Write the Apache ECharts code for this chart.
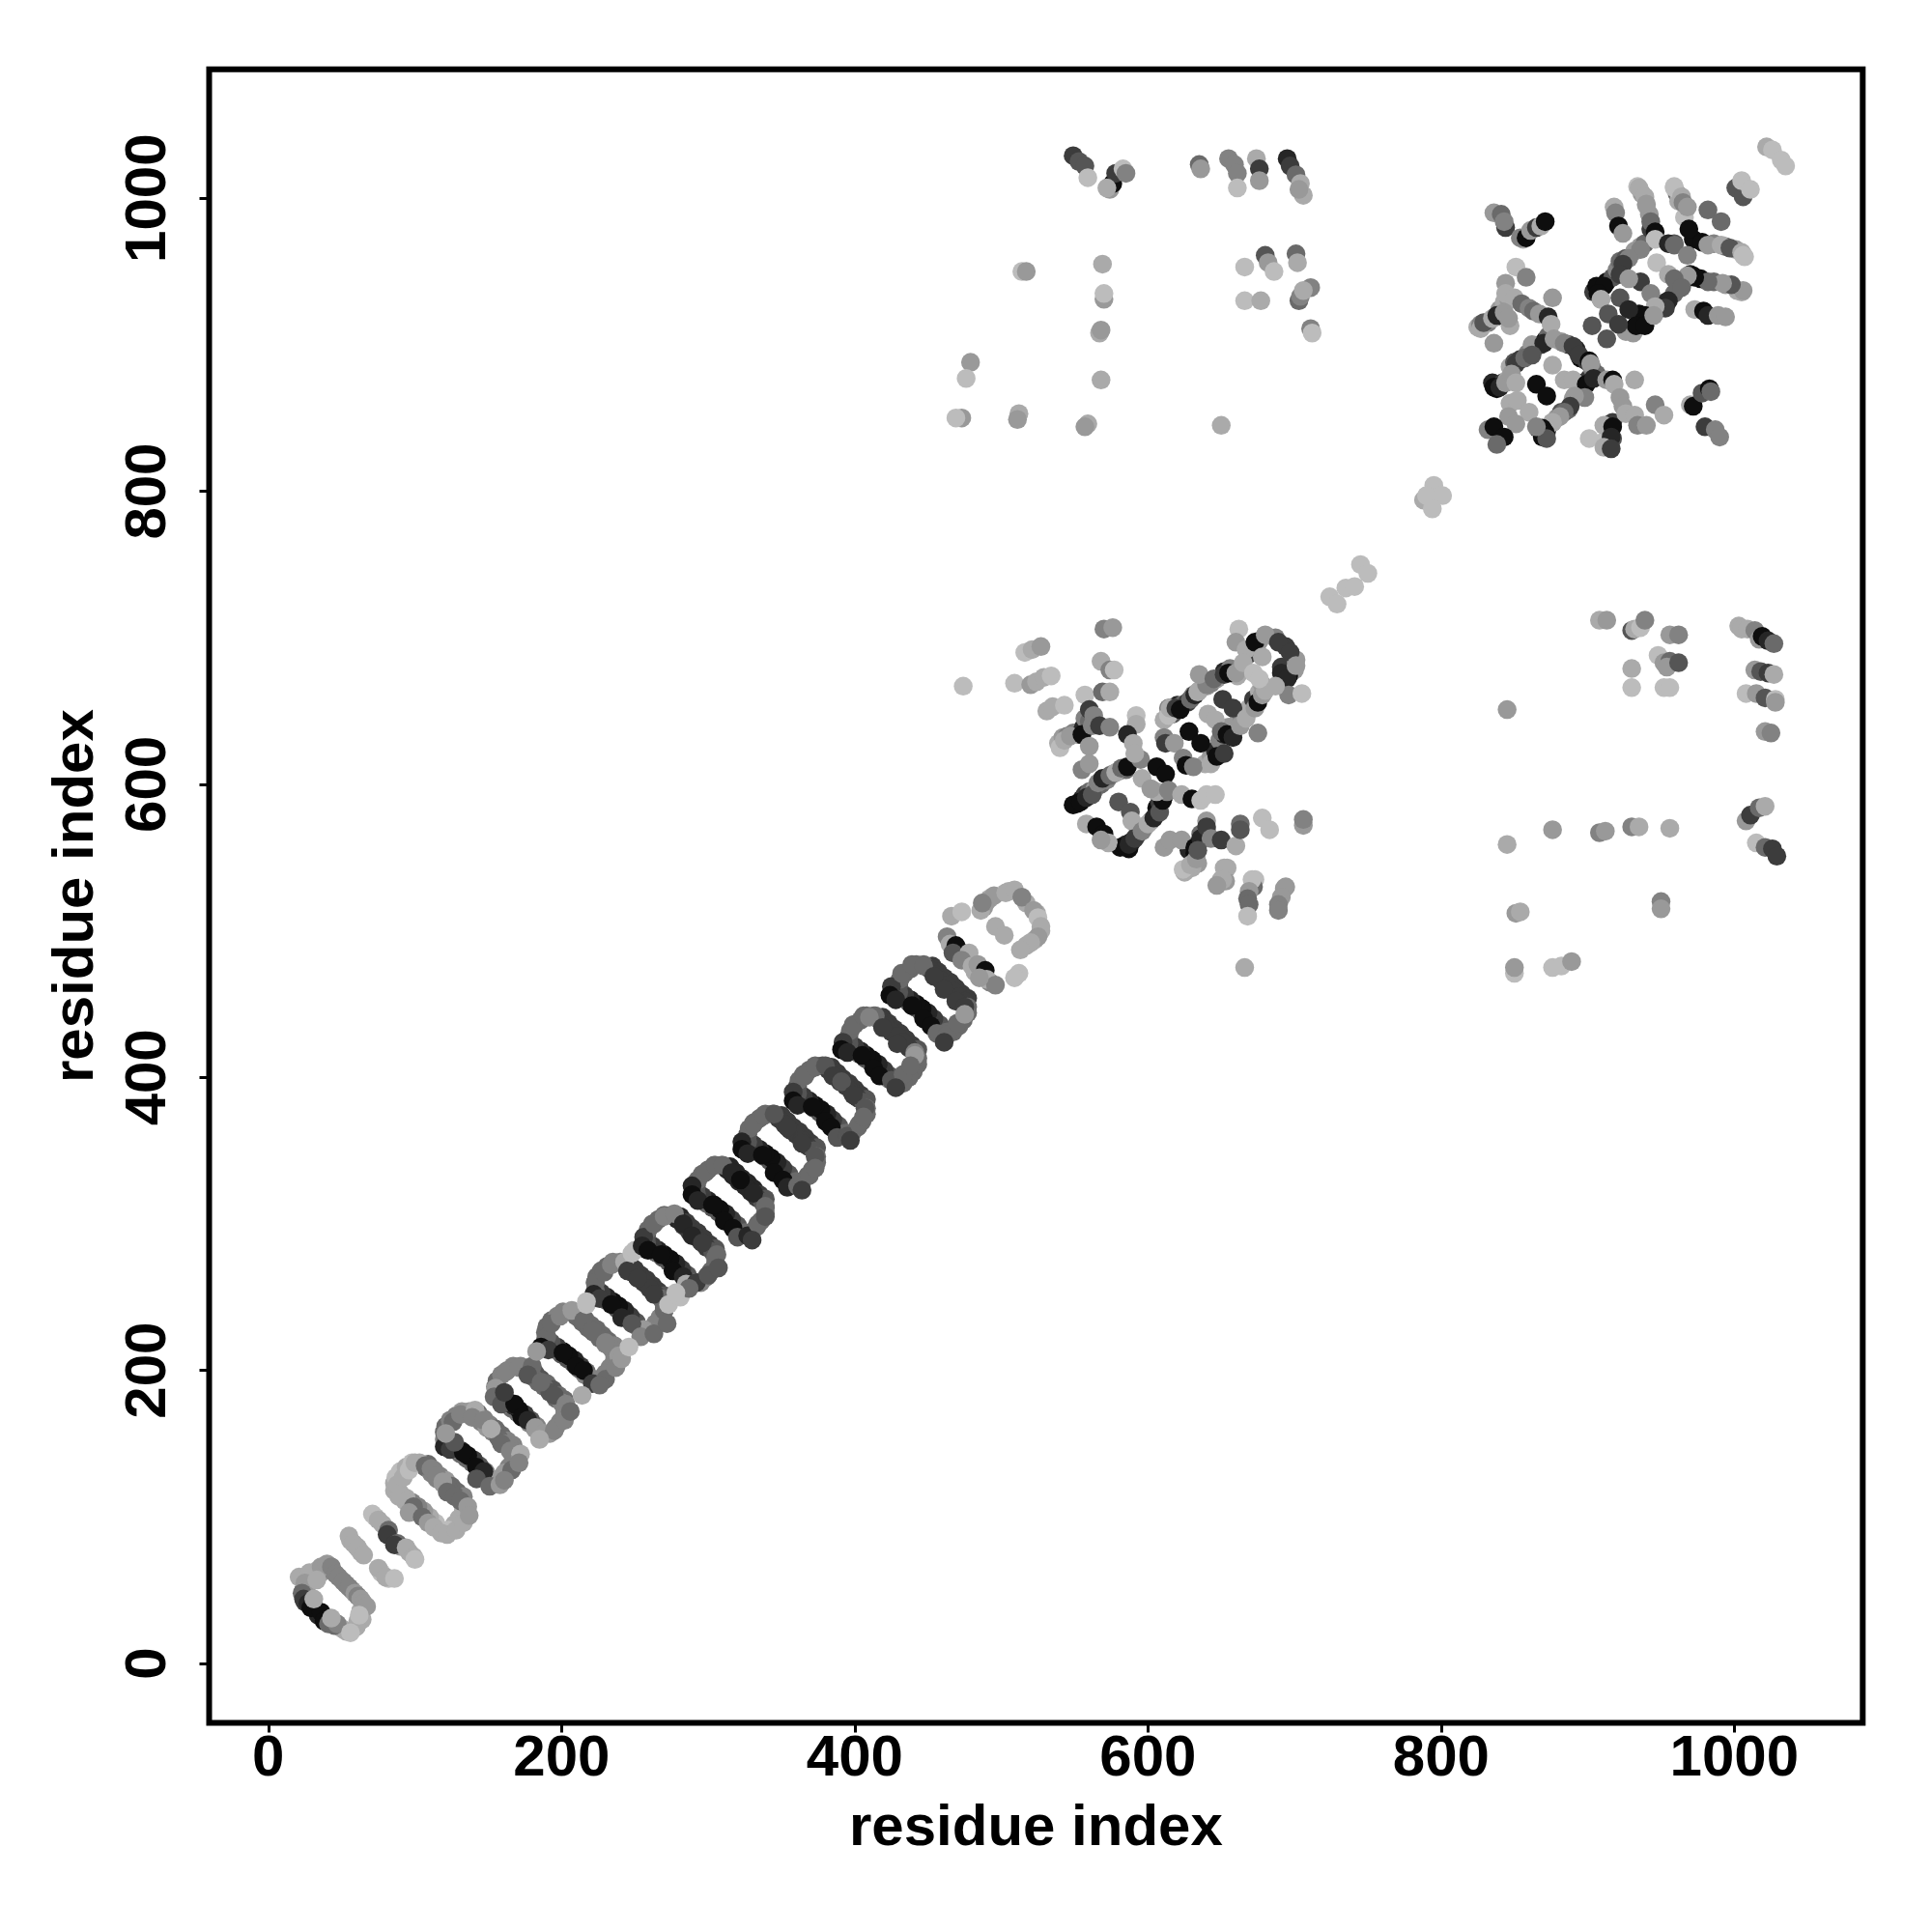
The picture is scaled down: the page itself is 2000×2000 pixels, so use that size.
<!DOCTYPE html>
<html><head><meta charset="utf-8">
<style>html,body{margin:0;padding:0;background:#fff}#c{width:2000px;height:2000px}</style>
<script src="https://cdn.jsdelivr.net/npm/echarts@6/dist/echarts.min.js"></script>
</head><body><div id="c"></div>
<script>
const tickValues=[0,200,400,600,800,1000];
const axisTitle="residue index";
// shade code -> grey
const levelGrays=["#000","#0e0e0e","#262626","#3c3c3c","#555","#6a6a6a","#828282","#999","#aaa","#bcbcbc"];
// [residue i, residue j, shade code]
const base03=[[113,94,8],[109,98,8],[105,102,7],[101,105,7],[97,108,6],[93,111,8],[89,114,8],[114,96,9],[110,100,8],[106,104,7],[102,107,6],[98,110,6],[94,113,8],[90,116,8],[86,118,8],[86,123,8],[87,127,9],[90,131,9],[94,134,8],[98,137,9],[109,136,5],[113,132,6],[117,128,6],[121,125,7],[125,121,5],[129,117,5],[133,114,6],[103,137,8],[107,134,5],[111,130,6],[115,126,6],[119,123,7],[123,119,5],[127,115,5],[131,112,6],[133,108,7],[133,104,8],[130,99,8],[127,95,8],[123,91,9],[119,91,9]];
const base04=[[147,129,7],[143,133,6],[139,137,5],[135,140,5],[131,143,5],[127,146,6],[123,149,6],[148,131,6],[144,135,4],[140,139,3],[136,142,1],[132,145,2],[128,148,3],[124,151,4],[120,153,6],[120,158,5],[121,162,5],[124,166,6],[128,169,6],[132,172,7],[143,171,5],[147,167,6],[151,163,6],[155,160,5],[159,156,5],[163,152,6],[167,149,6],[137,172,7],[141,169,5],[145,165,6],[149,161,7],[153,158,6],[157,154,5],[161,150,6],[165,147,6],[167,143,6],[167,139,6],[164,134,6],[161,130,7],[157,126,7],[153,126,7]];
const base05=[[182,160,7],[178,164,6],[174,168,5],[170,171,5],[166,174,5],[162,177,6],[158,180,6],[183,162,6],[179,166,4],[175,170,3],[171,173,1],[167,176,2],[163,179,3],[159,182,4],[155,184,6],[155,189,5],[156,193,5],[159,197,6],[163,200,6],[167,203,6],[178,202,5],[182,198,4],[186,194,4],[190,191,5],[194,187,4],[198,183,5],[202,180,5],[172,203,6],[176,200,4],[180,196,5],[184,192,5],[188,189,5],[192,185,4],[196,181,5],[200,178,6],[202,174,6],[202,170,6],[199,165,6],[196,161,6],[192,157,7],[188,157,7]];
const base06=[[216,197,6],[212,201,5],[208,205,4],[204,208,4],[200,211,4],[196,214,5],[192,217,5],[217,199,5],[213,203,3],[209,207,2],[205,210,1],[201,213,1],[197,216,3],[193,219,4],[189,221,5],[189,226,5],[190,230,5],[193,234,5],[197,237,6],[201,240,6],[212,239,4],[216,235,5],[220,231,5],[224,228,5],[228,224,5],[232,220,5],[236,217,6],[206,240,7],[210,237,5],[214,233,5],[218,229,5],[222,226,5],[226,222,5],[230,218,6],[234,215,6],[236,211,6],[236,207,6],[233,202,6],[230,198,6],[226,194,6],[222,194,6]];
const base07=[[250,231,6],[246,235,5],[242,239,4],[238,242,4],[234,245,4],[230,248,5],[226,251,5],[251,233,4],[247,237,3],[243,241,2],[239,244,1],[235,247,1],[231,250,2],[227,253,3],[223,255,5],[223,260,5],[224,264,5],[227,268,5],[231,271,5],[235,274,6],[246,273,3],[250,269,3],[254,265,3],[258,262,3],[262,258,3],[266,254,3],[270,251,4],[240,274,6],[244,271,3],[248,267,3],[252,263,3],[256,260,3],[260,256,3],[264,252,3],[268,249,5],[270,245,5],[270,241,5],[267,236,6],[264,232,6],[260,228,6],[256,228,7]];
const base08=[[285,263,6],[281,267,5],[277,271,4],[273,274,4],[269,277,4],[265,280,5],[261,283,5],[286,265,4],[282,269,3],[278,273,2],[274,276,1],[270,279,1],[266,282,2],[262,285,3],[258,287,4],[258,292,4],[259,296,5],[262,300,5],[266,303,5],[270,306,5],[281,305,2],[285,301,3],[289,297,3],[293,294,3],[297,290,3],[301,286,3],[305,283,4],[275,306,5],[279,303,2],[283,299,3],[287,295,3],[291,292,3],[295,288,3],[299,284,3],[303,281,4],[305,277,5],[305,273,5],[302,268,5],[299,264,5],[295,260,6],[291,260,6]];
const base09=[[319,297,6],[315,301,5],[311,305,4],[307,308,4],[303,311,4],[299,314,5],[295,317,5],[320,299,4],[316,303,3],[312,307,2],[308,310,1],[304,313,1],[300,316,2],[296,319,3],[292,321,4],[292,326,4],[293,330,5],[296,334,5],[300,337,5],[304,340,5],[315,339,2],[319,335,2],[323,331,2],[327,328,2],[331,324,2],[335,320,3],[339,317,4],[309,340,5],[313,337,2],[317,333,2],[321,329,2],[325,326,2],[329,322,2],[333,318,3],[337,315,4],[339,311,5],[339,307,5],[336,302,5],[333,298,5],[329,294,5],[325,294,5]];
const base10=[[354,332,6],[350,336,5],[346,340,4],[342,343,4],[338,346,4],[334,349,5],[330,352,5],[355,334,4],[351,338,3],[347,342,2],[343,345,1],[339,348,1],[335,351,2],[331,354,3],[327,356,4],[327,361,4],[328,365,5],[331,369,5],[335,372,5],[339,375,5],[350,374,3],[354,370,3],[358,366,3],[362,363,3],[366,359,3],[370,355,3],[374,352,4],[344,375,5],[348,372,3],[352,368,3],[356,364,3],[360,361,3],[364,357,3],[368,353,3],[372,350,4],[374,346,5],[374,342,5],[371,337,5],[368,333,5],[364,329,5],[360,329,5]];
const base11=[[388,365,6],[384,369,5],[380,373,4],[376,376,4],[372,379,4],[368,382,5],[364,385,5],[389,367,4],[385,371,3],[381,375,2],[377,378,1],[373,381,1],[369,384,2],[365,387,3],[361,389,4],[361,394,4],[362,398,5],[365,402,5],[369,405,5],[373,408,5],[384,407,3],[388,403,3],[392,399,3],[396,396,3],[400,392,3],[404,388,3],[408,385,4],[378,408,4],[382,405,3],[386,401,3],[390,397,3],[394,394,3],[398,390,3],[402,386,3],[406,383,4],[408,379,5],[408,375,5],[405,370,5],[402,366,5],[398,362,5],[394,362,5]];
const base12=[[423,399,6],[419,403,5],[415,407,4],[411,410,4],[407,413,4],[403,416,5],[399,419,5],[424,401,4],[420,405,3],[416,409,2],[412,412,1],[408,415,1],[404,418,2],[400,421,3],[396,423,4],[396,428,4],[397,432,5],[400,436,5],[404,439,5],[408,442,5],[419,441,3],[423,437,3],[427,433,3],[431,430,3],[435,426,3],[439,422,3],[443,419,4],[413,442,5],[417,439,3],[421,435,3],[425,431,3],[429,428,3],[433,424,3],[437,420,3],[441,417,6],[443,413,5],[443,409,5],[440,404,5],[437,400,5],[433,396,5],[429,396,5]];
const base13=[[457,434,6],[453,438,5],[449,442,4],[445,445,4],[441,448,4],[437,451,5],[433,454,5],[458,436,4],[454,440,3],[450,444,2],[446,447,1],[442,450,1],[438,453,2],[434,456,3],[430,458,4],[430,463,4],[431,467,5],[434,471,5],[438,474,5],[442,477,5],[453,476,3],[457,472,3],[461,468,3],[465,465,3],[469,461,3],[473,457,3],[477,454,3],[447,477,5],[451,474,3],[455,470,3],[459,466,3],[463,463,3],[467,459,3],[471,455,3],[475,452,3],[477,448,5],[477,444,5],[474,439,5],[471,435,5],[467,431,5],[463,431,5]];
const repeat01=[[36,62,7],[44,63,6],[53,54,6],[57,50,7],[64,42,8],[24,50,6],[26,52,7],[30,60,8],[34,64,8],[25,42,3],[32,37,1],[34,33,2],[50,24,8],[53,22,8],[63,36,8],[64,30,8],[21,59,8],[28,62,8],[25,55,7],[23,48,5],[24,44,3],[27,41,2],[29,38,1],[36,35,1],[38,29,1],[36,66,7],[40,68,7],[43,66,6],[46,61,6],[48,59,6],[51,56,6],[55,52,6],[59,48,7],[61,46,6],[63,44,7],[65,41,7],[67,39,7],[41,27,5],[45,26,5],[47,27,6],[43,31,8],[31,44,8],[33,57,8],[61,29,8],[60,25,8],[56,21,9],[62,33,9]];
const repeat02=[[56,84,8],[60,80,8],[63,76,8],[77,62,9],[82,58,9],[73,100,9],[78,95,8],[90,80,7],[96,76,8],[55,87,8],[58,82,8],[61,79,8],[65,74,8],[75,65,8],[80,59,8],[86,58,9],[71,102,9],[75,98,8],[82,91,5],[81,88,3],[88,82,5],[86,81,3],[94,79,8],[99,73,8],[100,71,9]];
const repeat03=[[90,115,8],[88,122,8],[92,127,8],[96,132,9],[100,137,8],[107,135,5],[111,133,6],[115,128,6],[119,124,7],[122,117,5],[127,114,5],[131,111,5],[136,107,7],[99,107,5],[96,103,7],[105,100,5],[109,96,7],[113,93,8],[118,89,8],[122,88,8],[128,91,8],[133,96,8],[137,101,7]];
const repeat04=[[121,155,5],[120,148,2],[124,146,3],[133,144,1],[126,165,5],[131,170,6],[141,173,8],[139,168,6],[147,166,6],[152,160,8],[159,150,5],[165,145,6],[172,143,8],[142,134,1],[147,131,2],[142,126,4],[151,121,5],[158,122,7],[166,132,5],[171,137,6],[161,125,6],[127,151,4],[121,157,7]];
const repeat05=[[155,188,7],[154,182,5],[159,177,4],[168,177,1],[162,199,6],[171,202,6],[180,203,5],[177,197,4],[186,192,5],[195,183,4],[203,177,6],[173,168,1],[177,166,2],[182,161,7],[188,157,7],[195,159,6],[202,166,6],[206,172,5],[185,153,8],[161,185,3]];
const repeat06=[[190,223,5],[186,216,1],[191,214,3],[201,212,1],[193,232,5],[199,237,6],[207,241,7],[215,234,5],[221,227,5],[230,219,6],[239,210,7],[210,203,1],[215,200,1],[221,191,3],[230,194,5],[237,202,6],[183,213,7],[214,183,8],[217,245,9],[241,208,7],[226,190,5]];
const repeat07=[[223,260,5],[222,252,2],[226,249,3],[234,245,1],[229,267,5],[234,272,6],[243,274,8],[245,268,3],[252,263,3],[263,252,3],[270,241,5],[241,236,2],[248,232,4],[254,223,6],[263,225,5],[272,232,5],[273,245,9],[246,216,9],[281,250,9],[217,247,9],[248,280,9],[250,282,9]];
const repeat08=[[256,291,3],[255,285,2],[259,282,1],[268,279,1],[263,300,5],[270,305,6],[277,307,6],[283,300,2],[289,292,2],[296,287,3],[306,279,5],[276,268,1],[283,264,2],[285,259,8],[292,260,3],[300,265,4],[307,270,4],[287,256,5],[278,253,9]];
const repeat09=[[289,326,2],[289,320,1],[293,316,2],[303,313,1],[298,335,5],[305,340,5],[310,340,5],[316,335,2],[322,330,1],[331,321,2],[339,312,5],[311,302,1],[317,297,1],[320,291,4],[327,292,2],[334,300,5],[339,305,4],[330,289,3]];
const repeat10=[[323,356,2],[323,351,1],[327,348,2],[337,347,1],[331,368,5],[338,374,5],[345,375,4],[354,366,3],[364,355,3],[373,346,4],[345,335,1],[351,330,1],[354,325,2],[361,326,5],[369,333,5],[373,338,5],[364,323,3]];
const repeat11=[[358,390,3],[358,384,1],[361,381,2],[371,380,1],[366,401,5],[373,407,5],[380,408,4],[385,401,3],[391,397,4],[399,388,3],[407,379,4],[380,370,1],[384,366,1],[388,359,4],[395,360,4],[403,368,5],[406,373,5],[397,357,3]];
const repeat12=[[392,424,3],[391,419,1],[395,417,2],[405,415,1],[399,436,5],[406,442,5],[414,442,5],[410,441,6],[419,434,3],[429,423,3],[441,415,7],[413,406,1],[417,401,1],[425,398,4],[433,402,5],[438,408,5],[428,393,3]];
const repeat13=[[425,462,3],[424,456,1],[428,453,2],[439,449,1],[432,471,5],[439,477,5],[447,476,5],[454,469,3],[461,460,3],[469,452,3],[475,448,3],[447,440,1],[452,435,1],[456,430,5],[463,429,5],[470,437,5],[475,443,7],[461,424,3]];
const repeat14=[[470,488,3],[475,483,7],[487,470,5],[492,465,6],[482,472,8],[488,516,7],[492,522,8],[505,527,8],[517,519,8],[524,512,8],[527,500,8],[523,494,8],[517,490,8],[463,496,6],[465,491,8],[469,490,1],[467,485,4],[478,485,8],[473,480,6],[480,476,8],[484,477,7],[489,473,1],[490,467,8],[496,463,6],[485,468,7],[466,510,8],[473,513,9],[486,514,8],[490,520,7],[495,524,7],[487,519,6],[503,526,8],[509,528,8],[514,523,6],[522,514,7],[525,509,9],[527,503,8],[525,496,7],[520,492,8],[513,487,8],[512,471,9],[509,468,9],[496,503,8],[502,497,8]];
const linkerContacts=[[724,728,9],[729,723,9],[735,734,9],[741,735,9],[745,750,9],[750,744,9],[788,794,8],[795,804,9],[801,797,9],[790,797,9],[794,788,9]];
const middleDense=[[552,587,1],[555,590,1],[557,593,3],[560,595,5],[564,597,7],[568,600,5],[572,603,6],[576,607,7],[580,609,6],[585,610,5],[587,556,1],[589,561,1],[593,566,4],[598,571,7],[602,575,7],[606,584,1],[608,588,3],[611,592,5],[585,559,2],[581,557,1],[628,555,2],[632,553,1],[634,559,4],[636,566,5],[640,568,6],[634,546,7],[630,543,8],[625,540,8],[611,644,8],[614,652,6],[617,648,4],[620,654,2],[623,654,5],[627,656,3],[631,661,6],[635,664,8],[640,667,7],[643,669,6],[647,672,7],[652,677,2],[656,679,6],[661,674,8],[639,614,8],[643,619,7],[646,623,2],[649,630,6],[652,634,2],[655,639,7],[661,642,7],[664,646,6],[669,652,8],[672,658,3],[676,663,8],[678,668,7],[672,694,2],[669,689,3],[676,698,7],[687,700,6],[694,694,3],[700,678,7],[696,674,1],[691,680,3],[701,685,7],[539,628,8],[542,632,7],[545,633,6],[549,635,6],[553,634,2],[556,639,2],[557,645,6],[560,643,5]];
const middleWest=[[474,667,9],[509,669,9],[520,668,7],[524,670,8],[529,673,8],[534,674,9],[516,690,9],[521,692,8],[527,694,7],[570,706,6],[576,707,7],[568,684,8],[574,678,6],[577,678,9],[557,661,9],[569,663,5],[574,663,8],[531,650,8],[535,653,8],[543,654,9],[540,625,9],[543,630,8],[547,633,7],[555,634,1],[560,651,3],[563,647,6],[562,640,6],[567,640,3],[574,639,6],[560,626,7],[555,610,6],[560,614,7]];
const middleRing=[[549,586,1],[554,588,1],[558,591,2],[562,593,4],[566,601,6],[569,604,2],[574,606,5],[578,608,8],[582,611,5],[586,612,1],[558,573,8],[565,571,1],[570,566,1],[573,560,8],[568,562,7],[580,588,4],[588,581,4],[589,575,8],[585,557,1],[587,559,2],[591,563,3],[596,568,6],[600,573,8],[604,577,2],[608,581,4],[610,589,1],[613,595,6],[606,595,8],[611,557,7],[615,562,7],[623,562,7],[632,557,1],[636,563,2],[640,575,7],[640,571,3],[643,563,6],[650,562,3],[660,558,8],[624,542,9],[629,545,8],[633,549,7],[634,555,4],[654,543,8],[650,535,8],[653,534,7],[673,535,9],[672,530,5],[694,530,7],[663,573,5],[663,569,4],[678,577,9],[683,569,9],[706,572,7],[706,576,6],[592,647,9],[592,641,8],[586,634,2],[590,628,8],[595,617,6],[591,621,8],[606,612,1],[612,607,1],[596,604,8],[602,597,7],[614,596,6],[623,593,8],[630,590,1],[636,589,9],[640,593,9],[646,593,9]];
const middleArm=[[611,632,6],[612,628,3],[618,628,7],[624,618,6],[626,613,1],[631,612,6],[628,636,1],[636,628,1],[614,647,9],[615,652,8],[619,652,3],[622,651,1],[629,658,5],[632,661,2],[634,663,8],[640,668,6],[635,675,7],[645,672,5],[652,675,3],[655,676,1],[660,676,7],[641,648,8],[646,644,8],[651,658,3],[658,652,3],[643,614,8],[647,619,1],[652,621,3],[650,636,5],[654,634,1],[658,632,2],[663,640,7],[667,645,8],[673,652,7],[675,656,1],[678,661,7],[675,635,6],[662,706,9],[660,697,7],[667,692,8],[673,697,1],[680,702,7],[689,697,3],[697,690,3],[665,683,8],[672,676,9],[678,687,8],[691,676,2],[695,672,2],[701,681,7],[696,661,6],[705,662,9],[680,664,8],[687,667,8],[676,672,9]];
const middleSouth=[[652,543,8],[651,535,8],[647,531,7],[671,535,9],[669,527,7],[668,522,5],[669,518,5],[668,510,9],[693,529,7],[691,523,7],[689,518,6],[689,514,6],[666,475,8]];
const upperLeftBlock=[[549,1029,3],[553,1025,4],[557,1022,4],[559,1014,9],[574,1006,7],[576,1010,1],[578,1017,3],[572,1007,8],[583,1020,9],[585,1017,6],[635,1023,5],[636,1020,7],[655,1027,6],[659,1023,6],[661,1017,6],[661,1007,9],[674,1027,8],[676,1020,3],[676,1012,7],[695,1027,2],[697,1022,3],[701,1016,5],[704,1010,8],[706,1002,8],[703,1006,7],[514,950,9],[517,950,7],[569,955,8],[570,931,7],[570,935,9],[567,908,8],[568,910,7],[568,876,8],[666,953,9],[680,961,4],[682,956,7],[686,950,9],[701,962,5],[702,956,8],[666,930,9],[677,930,8],[703,930,5],[704,933,6],[711,939,6],[706,937,8],[711,911,6],[712,908,9],[479,888,7],[476,877,9],[473,850,7],[469,850,9],[512,853,8],[511,849,7],[559,846,8],[557,844,7],[650,845,8]];
const upperDense=[[825,912,8],[827,914,6],[832,915,6],[837,919,3],[840,924,7],[843,929,8],[846,931,7],[850,931,8],[847,885,8],[850,888,4],[854,890,3],[859,894,6],[863,897,4],[868,900,3],[871,903,1],[873,906,5],[835,874,2],[838,870,1],[842,874,3],[845,876,8],[866,843,2],[869,837,1],[872,841,2],[876,847,7],[879,850,7],[882,854,4],[887,856,5],[890,863,7],[894,869,2],[897,874,1],[901,877,3],[882,902,7],[887,900,3],[892,897,2],[895,891,1],[899,889,3],[903,884,6],[906,880,5],[917,847,3],[916,842,1],[917,836,4],[913,832,7],[911,834,9],[904,936,3],[906,940,1],[909,931,7],[913,943,1],[917,946,4],[920,951,6],[922,957,5],[926,959,4],[932,964,7],[936,967,7],[939,969,5],[926,909,7],[931,911,2],[935,913,1],[939,917,1],[944,920,8],[948,924,7],[953,929,3],[959,935,5],[964,940,5],[970,948,2],[972,947,1],[977,945,1],[986,943,5],[994,941,7],[1002,937,8],[1005,936,8],[959,969,4],[972,972,1],[986,969,6],[994,967,5],[1001,965,7],[1007,960,9],[934,1008,9],[937,1003,7],[940,995,8],[942,989,7],[943,979,3],[959,1008,9],[961,1003,5],[962,998,8],[966,987,9]];
const upperRightWest=[[836,990,7],[841,989,5],[844,980,3],[843,984,6],[856,972,8],[854,973,6],[858,973,1],[861,978,7],[865,980,3],[868,981,8],[871,984,1],[851,953,9],[858,946,6],[844,942,7],[844,935,8],[876,932,7],[850,932,8],[855,928,5],[860,925,6],[863,923,5],[867,921,7],[873,919,2],[875,914,8],[827,911,8],[829,915,4],[835,918,8],[838,920,2],[843,922,7],[847,913,8],[846,918,7],[836,901,7],[862,900,7],[870,901,2],[877,904,7],[884,901,6],[890,899,3],[894,893,3],[901,889,1],[902,887,7],[851,887,3],[857,891,5],[862,893,4],[876,886,8],[836,871,1],[840,871,2],[844,874,7],[848,880,7],[851,874,8],[865,873,1],[872,865,1],[847,860,8],[852,862,8],[860,854,8],[846,851,7],[851,846,7],[884,876,8],[890,876,8],[899,873,1],[904,877,2],[913,876,7],[917,876,1],[918,873,8],[898,864,6],[891,865,7],[888,858,3],[884,854,5],[881,851,7],[876,847,8],[871,840,1],[869,843,1],[872,836,4],[865,844,6],[922,864,7],[924,858,7],[926,853,8],[932,852,8],[934,845,6],[940,845,7],[932,876,8],[901,836,9],[911,845,8],[917,844,1],[916,837,2],[911,830,8],[916,829,3],[946,859,6],[952,852,8],[832,842,6],[836,844,1],[843,837,1],[838,832,5],[970,859,8],[972,858,1],[978,867,4],[983,870,1],[984,868,5],[980,844,3],[987,842,6],[990,837,6]];
const upperRightEast=[[918,994,8],[919,990,6],[921,981,1],[924,976,7],[935,1007,8],[939,1001,8],[940,996,7],[943,984,5],[946,977,1],[946,972,9],[959,1007,9],[964,1001,8],[965,997,6],[968,994,7],[969,979,1],[978,970,1],[982,992,5],[991,984,5],[955,969,2],[959,968,5],[968,961,6],[982,968,7],[991,968,8],[997,966,4],[1005,963,8],[1006,961,9],[1006,937,7],[998,941,4],[992,942,7],[982,943,5],[973,946,1],[968,947,7],[947,956,9],[936,965,6],[928,959,6],[924,955,3],[922,948,3],[911,940,1],[907,935,1],[909,931,8],[922,932,4],[936,943,3],[928,945,7],[943,935,6],[955,948,8],[959,945,5],[964,939,5],[955,930,2],[953,925,3],[946,926,8],[939,920,1],[935,921,1],[928,924,2],[931,908,7],[933,913,1],[939,913,1],[945,920,7],[903,913,4],[913,904,4],[914,921,4],[921,914,3],[973,924,8],[979,923,1],[982,920,2],[989,920,7],[994,919,7],[1001,1007,4],[1006,1001,4],[1005,1012,9],[1011,1006,9],[1022,1035,8],[1026,1033,9],[1032,1026,9],[1035,1022,9]];
const lowerRightBlock=[[908,712,8],[913,712,7],[930,705,4],[932,706,8],[936,707,9],[939,712,6],[956,702,7],[962,702,6],[948,688,9],[952,683,7],[956,684,5],[954,680,7],[962,683,4],[930,679,8],[930,666,9],[952,666,9],[956,666,9],[1003,708,8],[1005,706,8],[1009,706,8],[1014,705,6],[1017,699,7],[1019,701,1],[1023,698,2],[1027,696,5],[1014,678,7],[1018,677,4],[1023,676,3],[1027,675,8],[1008,662,9],[1015,662,7],[1021,659,4],[1028,658,9],[1028,656,7],[1021,636,7],[1025,635,6],[845,651,7],[1008,575,7],[1011,579,3],[1017,584,5],[1021,585,8],[1015,560,9],[1021,557,5],[1026,556,3],[1029,551,3],[845,559,8],[876,569,7],[908,567,6],[912,568,7],[930,571,6],[935,571,8],[956,570,8],[851,512,7],[854,513,8],[950,520,6],[950,515,7],[850,471,9],[850,475,7],[876,475,9],[882,476,9],[889,479,7]];
const allContacts=[...repeat01,...repeat02,...base03,...repeat03,...base04,...repeat04,...base05,...repeat05,...base06,...repeat06,...base07,...repeat07,...base08,...repeat08,...base09,...repeat09,...base10,...repeat10,...base11,...repeat11,...base12,...repeat12,...base13,...repeat13,...repeat14,...linkerContacts,...middleDense,...middleWest,...middleRing,...middleArm,...middleSouth,...upperLeftBlock,...upperDense,...upperRightWest,...upperRightEast,...lowerRightBlock];

const chart=echarts.init(document.getElementById('c'),null,{renderer:'canvas'});
const labelFont={fontFamily:'Liberation Sans',fontWeight:'bold',fontSize:60,color:'#000'};
chart.setOption({
  animation:false,backgroundColor:'#fff',
  grid:{show:true,left:216.5,top:71.7,width:1711.8,height:1711.8,borderColor:'#000',borderWidth:6,backgroundColor:'transparent'},
  xAxis:{type:'value',min:-40.4,max:1087.6,name:axisTitle,nameLocation:'middle',nameGap:80,nameTextStyle:labelFont,
    axisLine:{show:false,onZero:false},splitLine:{show:false},
    axisTick:{show:true,customValues:tickValues,length:10,lineStyle:{color:'#000',width:3}},
    axisLabel:{...labelFont,customValues:tickValues,margin:8,hideOverlap:false,showMinLabel:true,showMaxLabel:true,formatter:v=>String(v)}},
  yAxis:{type:'value',min:-40.5,max:1088,name:axisTitle,nameLocation:'middle',nameGap:107,nameTextStyle:labelFont,
    axisLine:{show:false,onZero:false},splitLine:{show:false},
    axisTick:{show:true,customValues:tickValues,length:10,lineStyle:{color:'#000',width:3}},
    axisLabel:{...labelFont,customValues:tickValues,rotate:90,margin:62,align:'center',verticalAlign:'middle',hideOverlap:false,showMinLabel:true,showMaxLabel:true,formatter:v=>String(v)}},
  series:[{type:'scatter',symbol:'circle',symbolSize:19.5,silent:true,large:false,progressive:0,
    data:allContacts.map(p=>({value:[p[0],p[1]],itemStyle:{color:levelGrays[p[2]],opacity:1}}))}]
});
</script></body></html>
